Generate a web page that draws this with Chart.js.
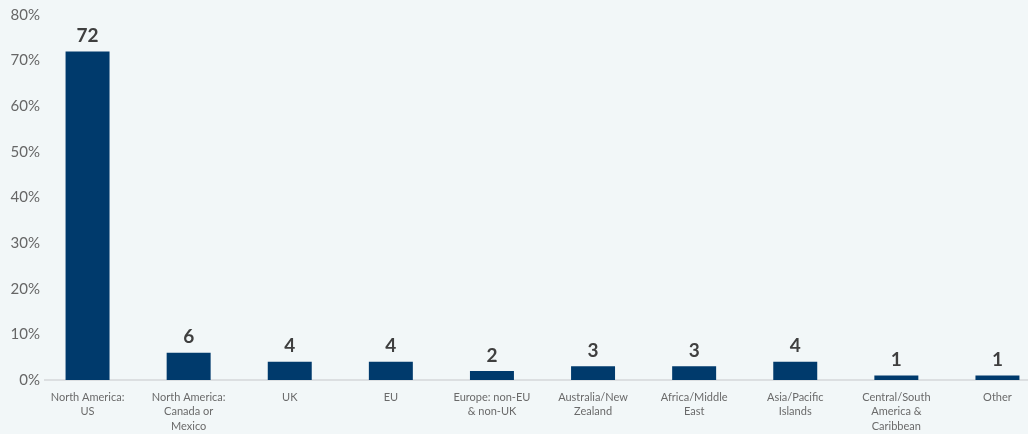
<!DOCTYPE html>
<html>
<head>
<meta charset="utf-8">
<script src="https://cdn.jsdelivr.net/npm/chart.js@4/dist/chart.umd.min.js"></script>
<style>
    html, body { margin: 0; padding: 0; background: #f2f7f8; overflow: hidden; }
    #wrap { width: 1048px; height: 434px; }
</style>
</head>
<body>
<div id="wrap"><canvas id="chart"></canvas></div>
<script>
const regions = [
    ["North America:", "US"],
    ["North America:", "Canada or", "Mexico"],
    "UK",
    "EU",
    ["Europe: non-EU", "& non-UK"],
    ["Australia/New", "Zealand"],
    ["Africa/Middle", "East"],
    ["Asia/Pacific", "Islands"],
    ["Central/South", "America &", "Caribbean"],
    "Other"
];
const shares = [72, 6, 4, 4, 2, 3, 3, 4, 1, 1];
const yTicks = [0, 10, 20, 30, 40, 50, 60, 70, 80];

const fontFamily = "Lato, 'Open Sans', sans-serif";

// value on top of each bar
const valueLabels = {
    id: "valueLabels",
    afterDatasetsDraw(chart) {
        const ctx = chart.ctx;
        const meta = chart.getDatasetMeta(0);
        ctx.save();
        ctx.font = "bold 19px " + fontFamily;
        ctx.fillStyle = "#3f3f3f";
        ctx.textAlign = "center";
        ctx.textBaseline = "bottom";
        meta.data.forEach((bar, i) => {
            ctx.fillText(shares[i], bar.x, bar.y - 6);
        });
        ctx.restore();
    }
};

// baseline under the bars + percent labels on the left
const axisDecor = {
    id: "axisDecor",
    beforeDatasetsDraw(chart) {
        const ctx = chart.ctx;
        const yScale = chart.scales.y;
        const y0 = yScale.getPixelForValue(0);
        ctx.save();
        ctx.strokeStyle = "#dcdfe1";
        ctx.lineWidth = 2;
        ctx.beginPath();
        ctx.moveTo(44, y0);
        ctx.lineTo(chart.width, y0);
        ctx.stroke();

        ctx.font = "15px " + fontFamily;
        ctx.fillStyle = "#666666";
        ctx.textAlign = "right";
        ctx.textBaseline = "middle";
        yTicks.forEach((v) => {
            ctx.fillText(v + "%", 40, yScale.getPixelForValue(v));
        });
        ctx.restore();
    }
};

new Chart(document.getElementById("chart"), {
    type: "bar",
    data: {
        labels: regions,
        datasets: [{
            data: shares,
            backgroundColor: "#003a6c",
            categoryPercentage: 1,
            barPercentage: 0.435
        }]
    },
    options: {
        responsive: true,
        maintainAspectRatio: false,
        animation: false,
        layout: { padding: { top: 15, right: 0, left: 0, bottom: 0 } },
        plugins: {
            legend: { display: false },
            tooltip: { enabled: false }
        },
        scales: {
            x: {
                grid: { display: false, drawTicks: false },
                border: { display: false },
                ticks: {
                    color: "#6a6a6a",
                    font: { family: fontFamily, size: 11, lineHeight: 1.32 },
                    padding: 10,
                    maxRotation: 0,
                    autoSkip: false
                },
                afterFit(scale) { scale.height = 54; }
            },
            y: {
                min: 0,
                max: 80,
                grid: { display: false, drawTicks: false },
                border: { display: false },
                ticks: { display: false },
                afterFit(scale) { scale.width = 37; }
            }
        }
    },
    plugins: [axisDecor, valueLabels]
});
</script>
</body>
</html>
